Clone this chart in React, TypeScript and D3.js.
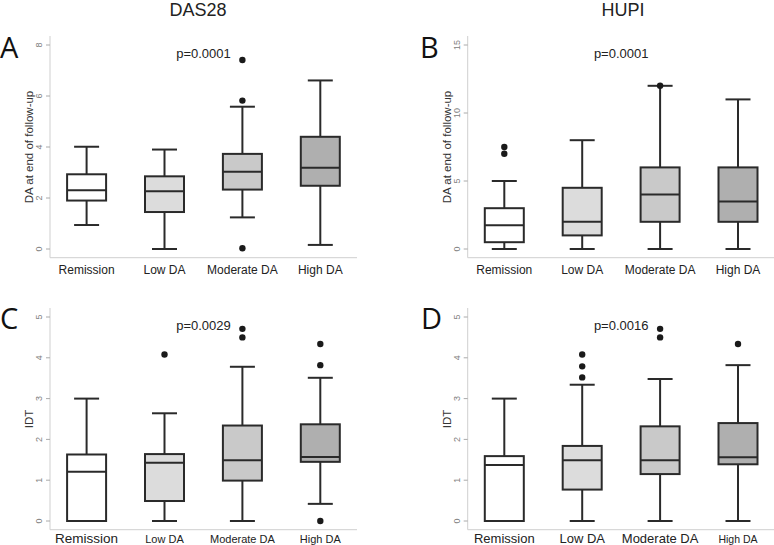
import React from "react";
import * as d3 from "d3";

const categories = ["Remission", "Low DA", "Moderate DA", "High DA"];

// [min, q1, median, q3, max]
const das28Stats = [
  [0.94, 1.9, 2.3, 2.93, 4.01],
  [0, 1.45, 2.26, 2.85, 3.9],
  [1.24, 2.33, 3.03, 3.73, 5.58],
  [0.16, 2.48, 3.19, 4.4, 6.61],
];
const das28Outliers = [[], [], [7.41, 5.82, 0.03], []];

const hupiStats = [
  [0, 0.5, 1.75, 3, 5],
  [0, 1, 2, 4.5, 8],
  [0, 2, 4, 6, 12],
  [0, 2, 3.5, 6, 11],
];
const hupiOutliers = [[7.5, 7], [], [12], []];

const idtDasStats = [
  [0, 0, 1.21, 1.63, 3.0],
  [0, 0.49, 1.43, 1.64, 2.64],
  [0, 0.99, 1.49, 2.34, 3.78],
  [0.42, 1.45, 1.57, 2.37, 3.51],
];
const idtDasOutliers = [[], [4.08], [4.71, 4.5], [4.34, 3.82, 0]];

const idtHupiStats = [
  [0, 0, 1.37, 1.59, 3.0],
  [0, 0.77, 1.49, 1.84, 3.34],
  [0, 1.15, 1.49, 2.32, 3.48],
  [0, 1.39, 1.56, 2.4, 3.82],
];
const idtHupiOutliers = [[], [4.08, 3.79, 3.52], [4.71, 4.5], [4.34]];

const ticksDas28 = [0, 2, 4, 6, 8];
const ticksHupi = [0, 5, 10, 15];
const ticksIdt = [0, 1, 2, 3, 4, 5];

const pValues = ["p=0.0001", "p=0.0001", "p=0.0029", "p=0.0016"];
const panelLetters = ["A", "B", "C", "D"];
const columnTitles = ["DAS28", "HUPI"];
const yLabels = ["DA at end of follow-up", "DA at end of follow-up", "IDT", "IDT"];

const fills = ["#ffffff", "#dcdcdc", "#c9c9c9", "#afafaf"];
const FONT = "'Liberation Sans', Arial, sans-serif";

type Panel = {
  axisX: number;
  yTop: number;
  yZero: number;
  axisTop: number;
  domainMax: number;
  ticks: number[];
  stats: number[][];
  outliers: number[][];
  p: string;
  letter: string;
  letterX: number;
  letterY: number;
  yLabel: string;
  labelSizes: number[];
  labelOffset: number;
};

const panels: Panel[] = [
  {
    axisX: 50, yTop: 45, yZero: 249, axisTop: 36, domainMax: 8, ticks: ticksDas28,
    stats: das28Stats, outliers: das28Outliers, p: pValues[0], letter: panelLetters[0],
    letterX: 0, letterY: 58, yLabel: yLabels[0], labelSizes: [12, 12, 12, 12], labelOffset: 24.5,
  },
  {
    axisX: 467.7, yTop: 45, yZero: 249, axisTop: 36, domainMax: 15, ticks: ticksHupi,
    stats: hupiStats, outliers: hupiOutliers, p: pValues[1], letter: panelLetters[1],
    letterX: 420, letterY: 58, yLabel: yLabels[1], labelSizes: [12, 12, 12, 12], labelOffset: 24.5,
  },
  {
    axisX: 50, yTop: 317, yZero: 521, axisTop: 308, domainMax: 5, ticks: ticksIdt,
    stats: idtDasStats, outliers: idtDasOutliers, p: pValues[2], letter: panelLetters[2],
    letterX: 0, letterY: 329, yLabel: yLabels[2], labelSizes: [13.5, 11, 11, 11], labelOffset: 21.8,
  },
  {
    axisX: 467.7, yTop: 317, yZero: 521, axisTop: 308, domainMax: 5, ticks: ticksIdt,
    stats: idtHupiStats, outliers: idtHupiOutliers, p: pValues[3], letter: panelLetters[3],
    letterX: 421, letterY: 329, yLabel: yLabels[3], labelSizes: [13, 13, 13, 10.5], labelOffset: 21.8,
  },
];

function BoxPanel({ pn }: { pn: Panel }) {
  const y = d3.scaleLinear().domain([0, pn.domainMax]).range([pn.yZero, pn.yTop]);
  const x = d3.scalePoint<string>().domain(categories).range([pn.axisX + 36.6, pn.axisX + 270.3]);
  const boxW = 39;
  const capW = 25;
  const stroke = "#2a2a2a";
  const bottomY = pn.yZero + 8.7;
  const plotMid = (pn.yZero + pn.yTop) / 2;
  return (
    <g>
      <line x1={pn.axisX} x2={pn.axisX} y1={pn.axisTop} y2={bottomY} stroke="#cfcfcf" strokeWidth={1} />
      <line x1={pn.axisX} x2={pn.axisX + 307} y1={bottomY} y2={bottomY} stroke="#cfcfcf" strokeWidth={1} />
      {pn.ticks.map((t) => (
        <g key={t}>
          <line x1={pn.axisX - 4} x2={pn.axisX} y1={y(t)} y2={y(t)} stroke="#aaaaaa" strokeWidth={1} />
          <text
            transform={`translate(${pn.axisX - 8},${y(t)}) rotate(-90)`}
            textAnchor="middle"
            fontSize={9}
            fill="#808080"
            fontFamily={FONT}
          >
            {t}
          </text>
        </g>
      ))}
      <text
        transform={`translate(${pn.axisX - 17},${plotMid}) rotate(-90)`}
        textAnchor="middle"
        fontSize={11.5}
        fill="#333"
        fontFamily={FONT}
      >
        {pn.yLabel}
      </text>
      {categories.map((c, i) => {
        const [mn, q1, md, q3, mx] = pn.stats[i];
        const cx = x(c)!;
        return (
          <g key={c}>
            <line x1={cx} x2={cx} y1={y(q3)} y2={y(mx)} stroke={stroke} strokeWidth={2} />
            <line x1={cx} x2={cx} y1={y(q1)} y2={y(mn)} stroke={stroke} strokeWidth={2} />
            <line x1={cx - capW / 2} x2={cx + capW / 2} y1={y(mx)} y2={y(mx)} stroke={stroke} strokeWidth={2} />
            <line x1={cx - capW / 2} x2={cx + capW / 2} y1={y(mn)} y2={y(mn)} stroke={stroke} strokeWidth={2} />
            <rect
              x={cx - boxW / 2}
              y={y(q3)}
              width={boxW}
              height={Math.max(0, y(q1) - y(q3))}
              fill={fills[i]}
              stroke={stroke}
              strokeWidth={2}
            />
            <line x1={cx - boxW / 2} x2={cx + boxW / 2} y1={y(md)} y2={y(md)} stroke={stroke} strokeWidth={2} />
            {pn.outliers[i].map((o, k) => (
              <circle key={k} cx={cx} cy={y(o)} r={3.2} fill="#1a1a1a" />
            ))}
            <text
              x={cx}
              y={pn.yZero + pn.labelOffset}
              textAnchor="middle"
              fontSize={pn.labelSizes[i]}
              fill="#222"
              fontFamily={FONT}
            >
              {c}
            </text>
          </g>
        );
      })}
      <text
        x={pn.axisX + 153.5}
        y={pn.yTop + 13}
        textAnchor="middle"
        fontSize={13}
        fill="#222"
        fontFamily={FONT}
      >
        {pn.p}
      </text>
      <text x={pn.letterX} y={pn.letterY} fontSize={29} fill="#111" fontFamily="'Open Sans', sans-serif">
        {pn.letter}
      </text>
    </g>
  );
}

export default function App() {
  return (
    <svg
      width={774}
      height={545}
      style={{ position: "absolute", left: 0, top: 0, background: "#fff" }}
    >
      <rect width={774} height={545} fill="#fff" />
      <text x={198} y={15.5} textAnchor="middle" fontSize={18} fill="#222" fontFamily={FONT}>
        {columnTitles[0]}
      </text>
      <text x={623} y={15.5} textAnchor="middle" fontSize={18} fill="#222" fontFamily={FONT}>
        {columnTitles[1]}
      </text>
      {panels.map((pn, i) => (
        <BoxPanel key={i} pn={pn} />
      ))}
    </svg>
  );
}
